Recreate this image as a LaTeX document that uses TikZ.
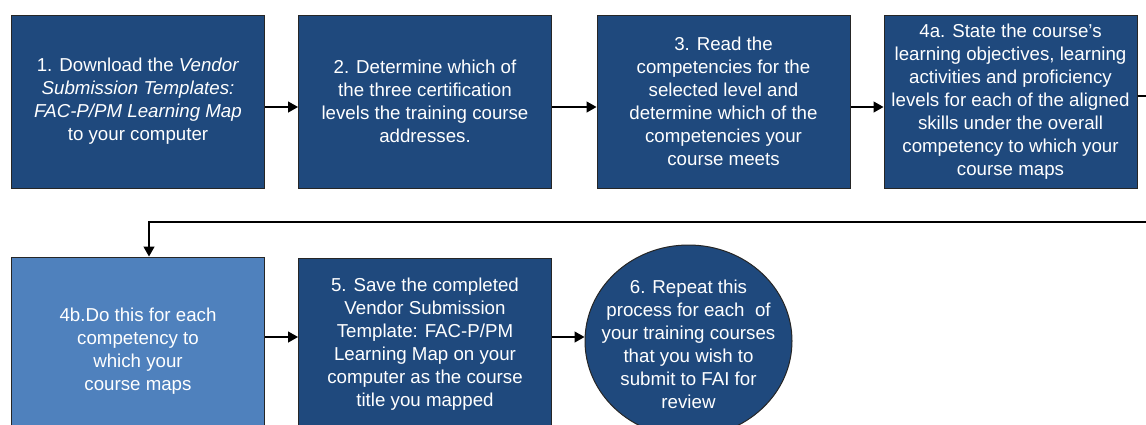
\documentclass[tikz,border=0pt]{standalone}
\usepackage{fontspec}
\setmainfont{Liberation Sans}
\usetikzlibrary{arrows.meta, shapes.geometric}

\definecolor{stepblue}{RGB}{31,73,125}
\definecolor{lightblue}{RGB}{79,129,189}

\begin{document}
\begin{tikzpicture}[x=1pt, y=1pt,
    steptext/.style = {text=white, align=center, font=\fontsize{18.7}{23}\selectfont},
    stepbox/.style = {steptext, draw=black!85, line width=1pt, fill=stepblue,
                      minimum width=253pt, minimum height=173pt, inner sep=2pt},
    flow/.style = {line width=1.3pt, -{Triangle[length=10pt, width=11pt]}}]

    \useasboundingbox (0,0) rectangle (1146,-424);
    \clip (0,0) rectangle (1146,-424);

    % top row
    \node [stepbox] (s1) at (138,-101.5) {1. Download the \textit{Vendor}\\ \textit{Submission Templates:}\\ \textit{FAC-P/PM Learning Map}\\ to your computer};
    \node [stepbox] (s2) at (425,-101.5) {2. Determine which of\\ the three certification\\ levels the training course\\ addresses.};
    \node [stepbox] (s3) at (723.5,-101.5) {3. Read the\\ competencies for the\\ selected level and\\ determine which of the\\ competencies your\\ course meets};
    \node [stepbox] (s4a) at (1010.5,-101.5) {4a. State the course’s\\ learning objectives, learning\\ activities and proficiency\\ levels for each of the aligned\\ skills under the overall\\ competency to which your\\ course maps};

    % bottom row
    \node [stepbox, fill=lightblue, minimum height=188pt] (s4b) at (138,-351) {4b.Do this for each\\ competency to\\ which your\\ course maps};
    \node [stepbox] (s5) at (425,-344.5) {5. Save the completed\\ Vendor Submission\\ Template: FAC-P/PM\\ Learning Map on your\\ computer as the course\\ title you mapped};
    \node [stepbox, ellipse, minimum width=207pt, minimum height=192pt, inner sep=0pt] (s6) at (688.5,-341) {};
    \node [steptext] (s6text) at ([yshift=-3pt]s6.center) {6. Repeat this\\ process for each\ \ of\\ your training courses\\ that you wish to\\ submit to FAI for\\ review};

    \coordinate (row1) at (0,-107);
    \coordinate (row2) at (0,-337);
    \coordinate (back) at (1160,-222);

    \foreach \a / \b in {s1/s2, s2/s3, s3/s4a}
        \draw [flow] (\a.east |- row1) -- (\b.west |- row1);

    \draw [flow] ([yshift=5.5pt]s4a.east) -| (back) -| ([xshift=11pt]s4b.north);

    \draw [flow] (s4b.east |- row2) -- (s5.west |- row2);
    \draw [flow] (s5.east |- row2) -- (s6.west |- row2);

\end{tikzpicture}
\end{document}
